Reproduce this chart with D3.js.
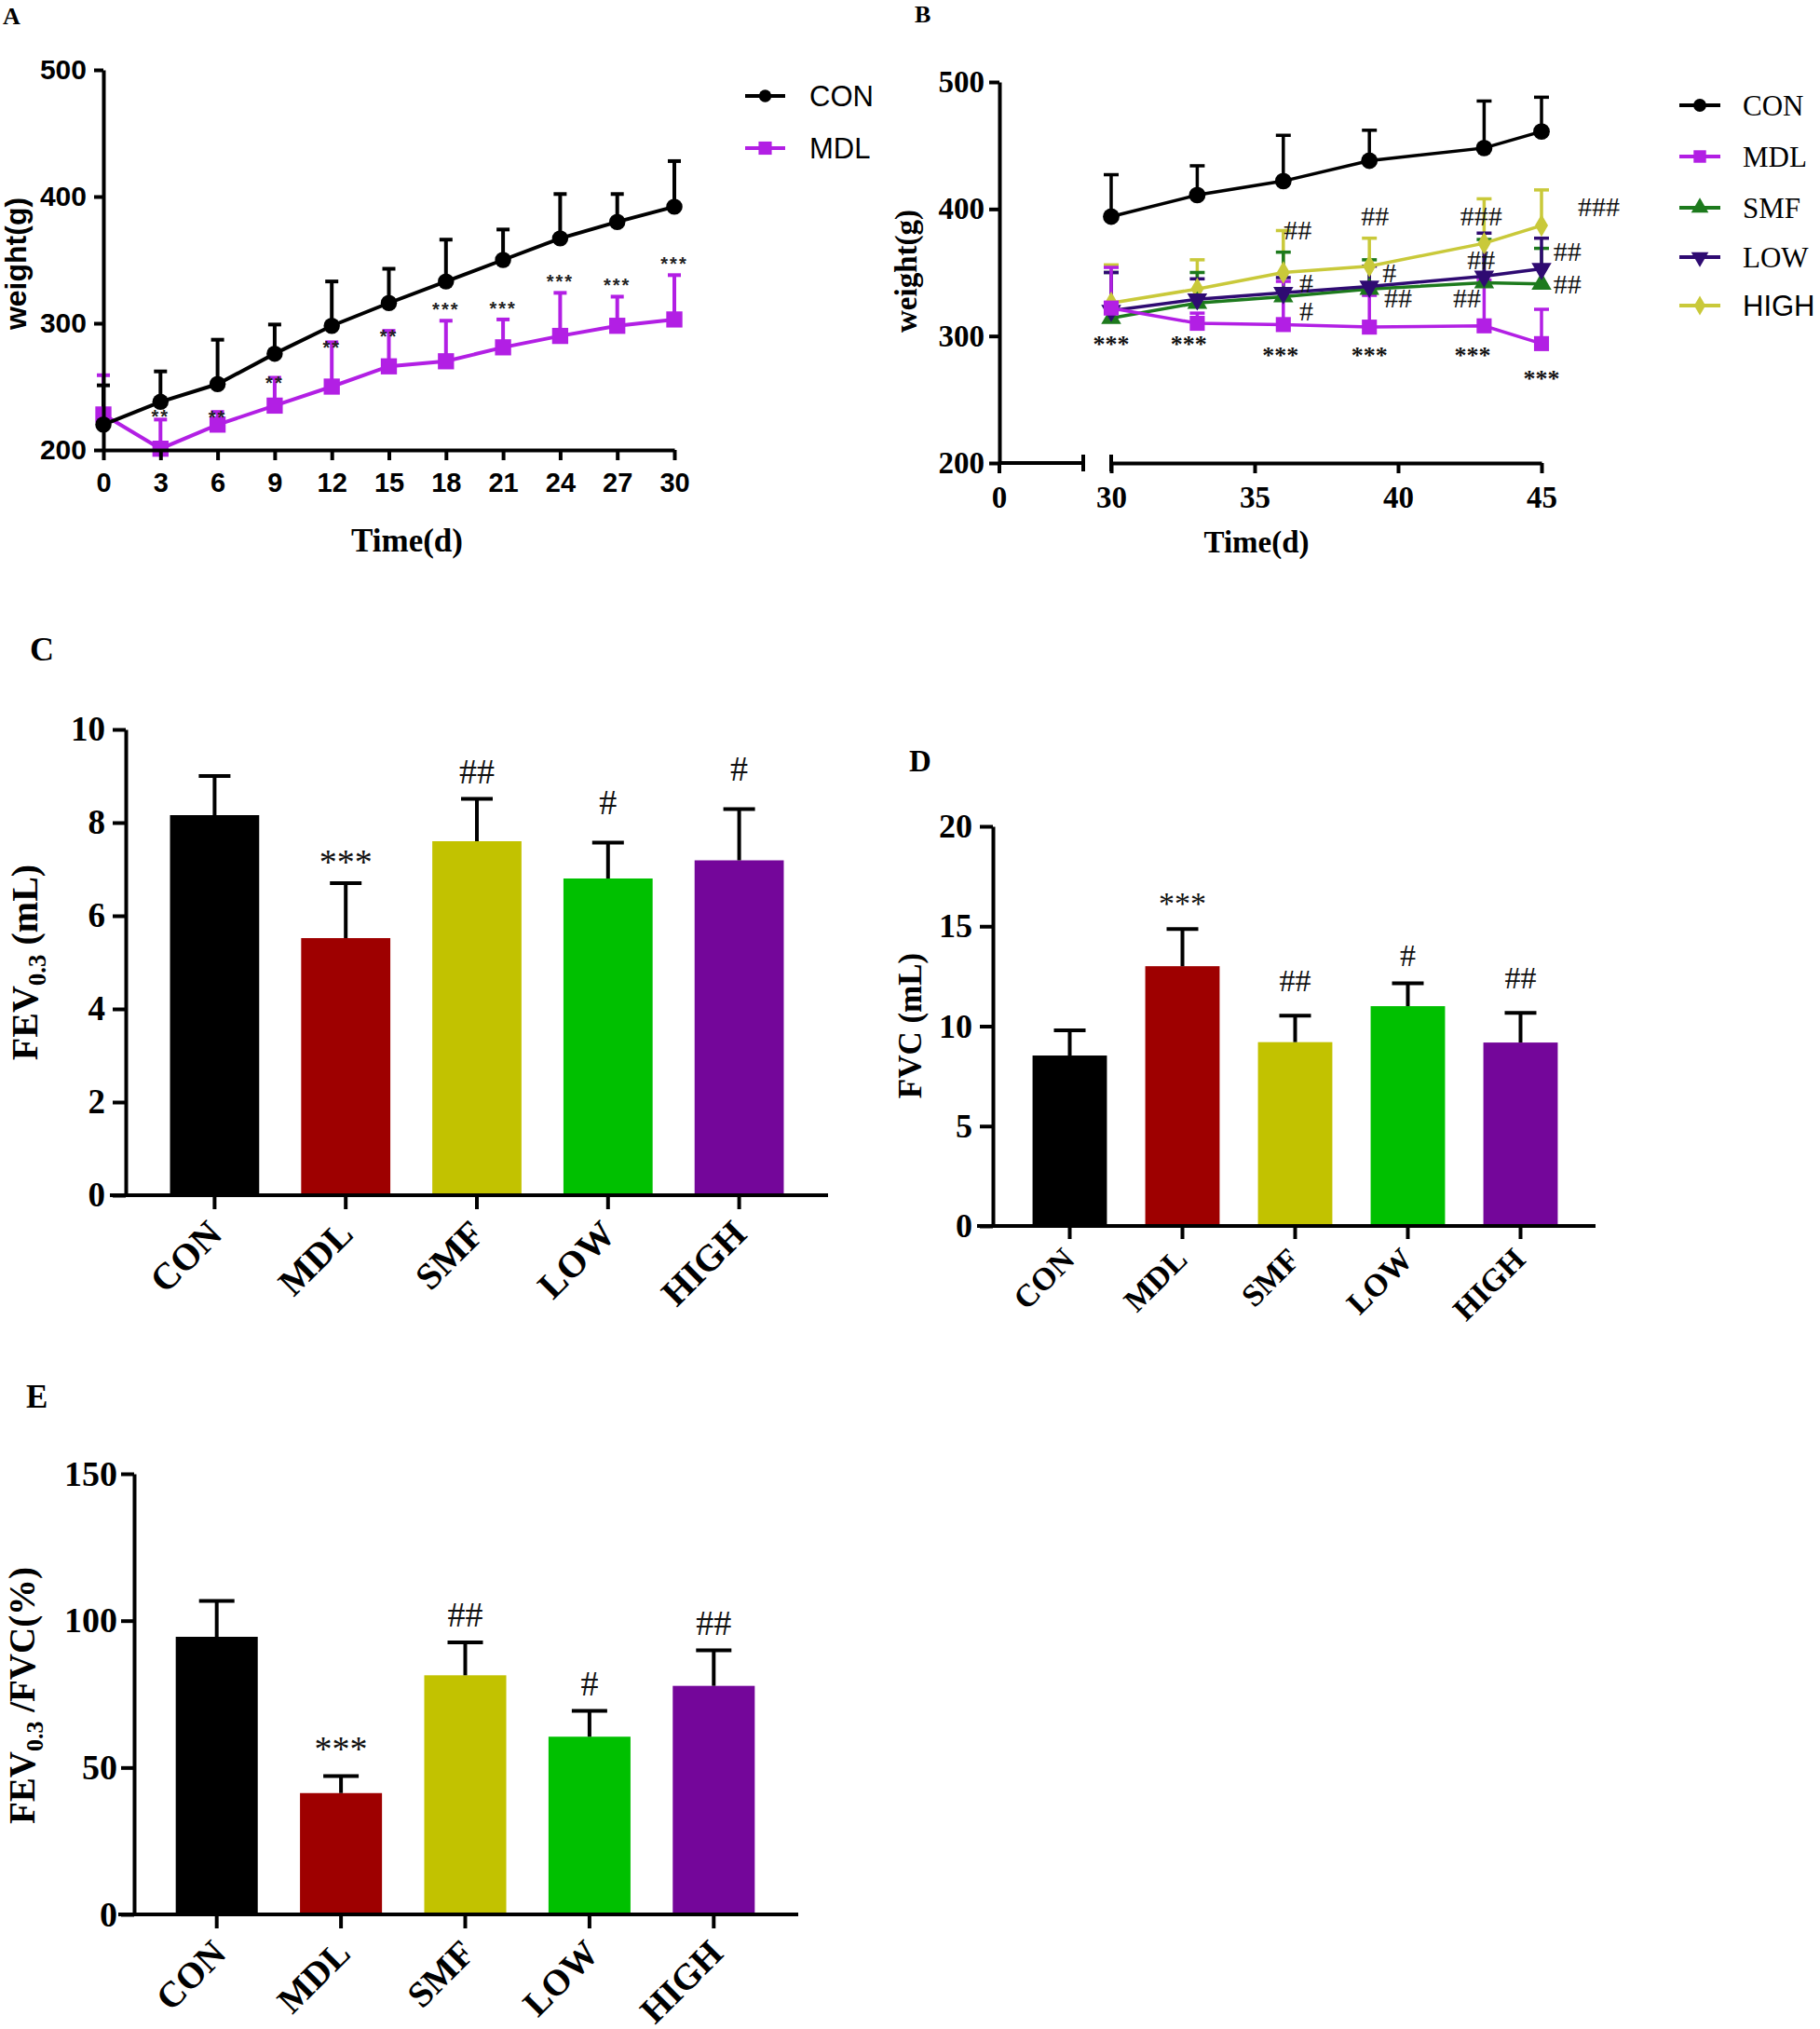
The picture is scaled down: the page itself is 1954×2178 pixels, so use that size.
<!DOCTYPE html>
<html><head><meta charset="utf-8">
<script src="https://cdn.jsdelivr.net/npm/d3@7"></script>
<style>
html,body{margin:0;padding:0;background:#fff;}
svg{display:block;}
</style></head>
<body>
<svg id="chart" width="1954" height="2178"></svg>
<script>
// ---------------- DATA ----------------
// Panel A: body weight, day 0-30
const daysA = [0, 3, 6, 9, 12, 15, 18, 21, 24, 27, 30];
const conA = [220, 238, 252, 276, 298, 316, 333, 350, 367, 380, 392];
const conASd = [31, 24, 35, 23, 35, 27, 33, 24, 35, 22, 36];
const mdlA = [228, 201, 220, 235, 250, 266, 270, 281, 290, 298, 303];
const mdlASd = [31, 23, 10, 22, 35, 28, 32, 22, 34, 23, 35];
const sigA = ["", "**", "**", "**", "**", "**", "***", "***", "***", "***", "***"];
const ticksAy = [200, 300, 400, 500];

// Panel B: body weight, day 30-45
const daysB = [30, 33, 36, 39, 43, 45];
const conB = [394, 411, 422, 438, 448, 461];
const conBSd = [33, 23, 36, 24, 37, 27];
const mdlB = [322, 310, 309, 307, 308, 294];
const mdlBSd = [32, 8, 34, 25, 36, 27];
const smfB = [314, 326, 331, 337, 342, 341];
const smfBSd = [36, 24, 35, 23, 34, 28];
const lowB = [320, 329, 334, 339, 347, 353];
const lowBSd = [30, 16, 12, 16, 34, 24];
const highB = [326, 337, 350, 355, 373, 387];
const highBSd = [30, 23, 33, 22, 35, 28];
const ticksBx = [30, 35, 40, 45];
const ticksBy = [200, 300, 400, 500];
// significance marks in panel B: [day, weight level, label]
const sigB = [
  [30, 298, "***"], [32.7, 298, "***"], [35.9, 289, "***"], [39, 289, "***"], [42.6, 289, "***"], [45, 271, "***"],
  [36.5, 384, "##"], [36.8, 342, "#"], [36.8, 320, "#"],
  [39.2, 395, "##"], [39.7, 350, "#"], [40.0, 330, "##"],
  [42.9, 395, "###"], [42.9, 360, "##"], [42.4, 330, "##"],
  [47.0, 402, "###"], [45.9, 367, "##"], [45.9, 341, "##"]
];

// Panels C-E: lung function
const groups = ["CON", "MDL", "SMF", "LOW", "HIGH"];
const fevMean = [8.16, 5.52, 7.60, 6.80, 7.19];
const fevSd = [0.84, 1.18, 0.91, 0.77, 1.10];
const fevSig = ["", "***", "##", "#", "#"];
const fevTicks = [0, 2, 4, 6, 8, 10];
const fvcMean = [8.53, 13.0, 9.2, 11.0, 9.18];
const fvcSd = [1.26, 1.86, 1.32, 1.14, 1.48];
const fvcSig = ["", "***", "##", "#", "##"];
const fvcTicks = [0, 5, 10, 15, 20];
const ratioMean = [94.5, 41.3, 81.4, 60.5, 77.8];
const ratioSd = [12.2, 5.8, 11.2, 8.8, 12.1];
const ratioSig = ["", "***", "##", "#", "##"];
const ratioTicks = [0, 50, 100, 150];

// ---------------- STYLE ----------------
const SERIF = "'Liberation Serif','Times New Roman',serif";
const SANS = "'Liberation Sans',Arial,sans-serif";
const C_MDL = "#b21fe4", C_SMF = "#1d7a1d", C_LOW = "#2f0b72", C_HIGH = "#c9c93a";
const barColors = ["#000000", "#9e0000", "#c2c200", "#00c000", "#74069a"];

const svg = d3.select("#chart");

function styleAxis(g, font, size, weight) {
  g.select(".domain").attr("stroke", "#000").attr("stroke-width", 4);
  g.selectAll(".tick line").attr("stroke", "#000").attr("stroke-width", 4);
  g.selectAll(".tick text").attr("font-family", font).attr("font-size", size)
    .attr("font-weight", weight).attr("fill", "#000");
}
function label(x, y, txt, font, size, weight, anchor) {
  return svg.append("text").attr("x", x).attr("y", y).text(txt)
    .attr("font-family", font).attr("font-size", size).attr("font-weight", weight || "normal")
    .attr("text-anchor", anchor || "start").attr("fill", "#000");
}

// ---------------- PANEL A ----------------
(function () {
  const x = d3.scaleLinear().domain([0, 30]).range([111, 724]);
  const y = d3.scaleLinear().domain([200, 500]).range([483, 75]);
  const g = svg.append("g");

  const series = [
    { m: mdlA, s: mdlASd, c: C_MDL, sym: d3.symbolSquare, size: 300 },
    { m: conA, s: conASd, c: "#000", sym: d3.symbolCircle, size: 240 }
  ];
  series.forEach(se => {
    const eg = g.append("g");
    daysA.forEach((d, i) => {
      const top = y(se.m[i] + se.s[i]);
      eg.append("line").attr("x1", x(d)).attr("x2", x(d)).attr("y1", y(se.m[i])).attr("y2", top)
        .attr("stroke", se.c).attr("stroke-width", 4);
      eg.append("line").attr("x1", x(d) - 7).attr("x2", x(d) + 7).attr("y1", top).attr("y2", top)
        .attr("stroke", se.c).attr("stroke-width", 4);
    });
  });
  const line = d3.line().x((d, i) => x(daysA[i])).y(d => y(d));
  series.forEach(se => {
    g.append("path").attr("d", line(se.m)).attr("fill", "none").attr("stroke", se.c).attr("stroke-width", 4);
    g.selectAll(null).data(se.m).enter().append("path")
      .attr("d", d3.symbol().type(se.sym).size(se.size))
      .attr("transform", (d, i) => `translate(${x(daysA[i])},${y(d)})`).attr("fill", se.c);
  });
  sigA.forEach((s, i) => {
    if (!s) return;
    const off = s === "***" ? -5 : (i === 1 ? 4 : 13);
    g.append("text").attr("x", x(daysA[i])).attr("y", y(mdlA[i] + mdlASd[i]) + off).text(s)
      .attr("font-family", SANS).attr("font-size", 20).attr("font-weight", "bold")
      .attr("letter-spacing", 2).attr("text-anchor", "middle").attr("fill", "#222");
  });
  const ax = g.append("g").attr("transform", `translate(0,${y(200)})`)
    .call(d3.axisBottom(x).tickValues(daysA).tickSize(11).tickSizeOuter(0).tickPadding(13));
  styleAxis(ax, SANS, 29, "bold");
  const ay = g.append("g").attr("transform", `translate(${x(0)},0)`)
    .call(d3.axisLeft(y).tickValues(ticksAy).tickSize(10).tickSizeOuter(0).tickPadding(8));
  styleAxis(ay, SANS, 30, "bold");

  label(437, 592, "Time(d)", SERIF, 35, "bold", "middle");
  svg.append("text").attr("transform", "translate(28,283) rotate(-90)").text("weight(g)")
    .attr("font-family", SANS).attr("font-size", 32).attr("font-weight", "bold")
    .attr("text-anchor", "middle");
  label(3, 26, "A", SERIF, 26, "bold");

  const leg = [["CON", "#000", d3.symbolCircle, 140], ["MDL", C_MDL, d3.symbolSquare, 200]];
  leg.forEach((l, i) => {
    const ly = 103 + i * 56;
    svg.append("line").attr("x1", 800).attr("x2", 843).attr("y1", ly).attr("y2", ly)
      .attr("stroke", l[1]).attr("stroke-width", 4);
    svg.append("path").attr("d", d3.symbol().type(l[2]).size(l[3])())
      .attr("transform", `translate(821.5,${ly})`).attr("fill", l[1]);
    label(869, ly + 11, l[0], SANS, 31);
  });
})();

// ---------------- PANEL B ----------------
(function () {
  const x = d3.scaleLinear().domain([30, 45]).range([1193, 1655]);
  const y = d3.scaleLinear().domain([200, 500]).range([497, 88]);
  const yAxisX = 1073;
  const g = svg.append("g");
  const series = [
    { m: highB, s: highBSd, c: C_HIGH, sym: d3.symbolDiamond, size: 170 },
    { m: smfB, s: smfBSd, c: C_SMF, sym: d3.symbolTriangle, size: 200 },
    { m: lowB, s: lowBSd, c: C_LOW, sym: d3.symbolTriangle, size: 200, flip: true },
    { m: mdlB, s: mdlBSd, c: C_MDL, sym: d3.symbolSquare, size: 260 },
    { m: conB, s: conBSd, c: "#000", sym: d3.symbolCircle, size: 250 }
  ];
  series.forEach(se => {
    daysB.forEach((d, i) => {
      const top = y(se.m[i] + se.s[i]);
      g.append("line").attr("x1", x(d)).attr("x2", x(d)).attr("y1", y(se.m[i])).attr("y2", top)
        .attr("stroke", se.c).attr("stroke-width", 3.5);
      g.append("line").attr("x1", x(d) - 8).attr("x2", x(d) + 8).attr("y1", top).attr("y2", top)
        .attr("stroke", se.c).attr("stroke-width", 3.5);
    });
  });
  const line = d3.line().x((d, i) => x(daysB[i])).y(d => y(d));
  series.forEach(se => {
    g.append("path").attr("d", line(se.m)).attr("fill", "none").attr("stroke", se.c).attr("stroke-width", 3.5);
    g.selectAll(null).data(se.m).enter().append("path")
      .attr("d", d3.symbol().type(se.sym).size(se.size))
      .attr("transform", (d, i) => `translate(${x(daysB[i])},${y(d)})${se.flip ? " rotate(180)" : ""}`)
      .attr("fill", se.c);
  });
  sigB.forEach(s => {
    const star = s[2].indexOf("*") >= 0;
    g.append("text").attr("x", x(s[0])).attr("y", y(s[1])).attr("dy", star ? "0.55em" : "0.35em").text(s[2])
      .attr("font-family", SERIF).attr("font-size", star ? 26 : 30).attr("font-weight", star ? "bold" : "normal")
      .attr("text-anchor", "middle").attr("fill", "#111");
  });
  const ax = g.append("g").attr("transform", `translate(0,${y(200)})`)
    .call(d3.axisBottom(x).tickValues(ticksBx).tickSize(11).tickSizeOuter(0).tickPadding(14));
  styleAxis(ax, SERIF, 33, "bold");
  const brk = x(30) - 30;
  g.append("line").attr("x1", yAxisX).attr("x2", brk).attr("y1", y(200)).attr("y2", y(200))
    .attr("stroke", "#000").attr("stroke-width", 4);
  [brk, x(30)].forEach(bx => g.append("line").attr("x1", bx).attr("x2", bx)
    .attr("y1", y(200) - 9).attr("y2", y(200) + 9).attr("stroke", "#000").attr("stroke-width", 4));
  g.append("line").attr("x1", yAxisX).attr("x2", yAxisX).attr("y1", y(200)).attr("y2", y(200) + 11)
    .attr("stroke", "#000").attr("stroke-width", 4);
  g.append("text").attr("x", yAxisX).attr("y", y(200) + 25).attr("dy", "0.71em").text("0")
    .attr("font-family", SERIF).attr("font-size", 33).attr("font-weight", "bold").attr("text-anchor", "middle");
  const ay = g.append("g").attr("transform", `translate(${yAxisX},0)`)
    .call(d3.axisLeft(y).tickValues(ticksBy).tickSize(11).tickSizeOuter(0).tickPadding(5));
  styleAxis(ay, SERIF, 33, "bold");

  label(1349, 593, "Time(d)", SERIF, 33, "bold", "middle");
  svg.append("text").attr("transform", "translate(984,291) rotate(-90)").text("weight(g)")
    .attr("font-family", SERIF).attr("font-size", 33).attr("font-weight", "bold").attr("text-anchor", "middle");
  label(982, 24, "B", SERIF, 26, "bold");

  const leg = [["CON", "#000", d3.symbolCircle, 150, false, SERIF],
    ["MDL", C_MDL, d3.symbolSquare, 180, false, SERIF],
    ["SMF", C_SMF, d3.symbolTriangle, 150, false, SERIF],
    ["LOW", C_LOW, d3.symbolTriangle, 150, true, SERIF],
    ["HIGH", C_HIGH, d3.symbolDiamond, 130, false, SANS]];
  const legY = [113, 168, 223, 276, 328];
  leg.forEach((l, i) => {
    const ly = legY[i];
    svg.append("line").attr("x1", 1803).attr("x2", 1847).attr("y1", ly).attr("y2", ly)
      .attr("stroke", l[1]).attr("stroke-width", 4);
    svg.append("path").attr("d", d3.symbol().type(l[2]).size(l[3])())
      .attr("transform", `translate(1825,${ly})${l[4] ? " rotate(180)" : ""}`).attr("fill", l[1]);
    label(1871, ly + 11, l[0], l[5], 31);
  });
})();

// ---------------- BAR PANELS ----------------
function barPanel(o) {
  const y = d3.scaleLinear().domain(o.domain).range([o.y0, o.y1]);
  const xb = d3.scaleBand().domain(groups).range(o.xr).paddingInner(o.pad).paddingOuter(o.pad / 2);
  const g = svg.append("g");
  g.selectAll(null).data(o.mean).enter().append("rect")
    .attr("x", (d, i) => xb(groups[i])).attr("width", xb.bandwidth())
    .attr("y", d => y(d)).attr("height", d => y(0) - y(d))
    .attr("fill", (d, i) => barColors[i]);
  o.mean.forEach((m, i) => {
    const cx = xb(groups[i]) + xb.bandwidth() / 2;
    const top = y(m + o.sd[i]);
    g.append("line").attr("x1", cx).attr("x2", cx).attr("y1", y(m)).attr("y2", top)
      .attr("stroke", "#000").attr("stroke-width", 4);
    g.append("line").attr("x1", cx - o.cap / 2).attr("x2", cx + o.cap / 2).attr("y1", top).attr("y2", top)
      .attr("stroke", "#000").attr("stroke-width", 4);
    if (o.sig[i]) {
      const s = o.sig[i];
      const off = s === "#" ? o.sigOff1 : (s === "***" ? o.sigOff3 : o.sigOff);
      g.append("text").attr("x", cx).attr("y", top - off).attr("dy", "0.35em").text(s)
        .attr("font-family", SERIF).attr("font-size", o.sigSize).attr("text-anchor", "middle").attr("fill", "#111");
    }
    g.append("line").attr("x1", cx).attr("x2", cx).attr("y1", y(0)).attr("y2", y(0) + o.tick)
      .attr("stroke", "#000").attr("stroke-width", 4);
    g.append("text").attr("transform", `translate(${cx + o.lab[0]},${y(0) + o.lab[1]}) rotate(-45)`)
      .text(groups[i]).attr("font-family", SERIF).attr("font-size", o.catSize)
      .attr("font-weight", "bold").attr("text-anchor", "end");
  });
  g.append("line").attr("x1", o.ax - 17).attr("x2", o.xEnd).attr("y1", y(0)).attr("y2", y(0))
    .attr("stroke", "#000").attr("stroke-width", 4);
  const ay = g.append("g").attr("transform", `translate(${o.ax},0)`)
    .call(d3.axisLeft(y).tickValues(o.ticks).tickSize(14).tickSizeOuter(0).tickPadding(o.tickPad));
  styleAxis(ay, SERIF, o.tickSize, "bold");
  return y;
}

// C
barPanel({ domain: [0, 10], y0: 1283, y1: 783, xr: [160, 864], pad: 0.32, ax: 135, xEnd: 889,
  mean: fevMean, sd: fevSd, sig: fevSig, ticks: fevTicks, cap: 34, sigOff: 30, sigOff1: 44, sigOff3: 23, sigSize: 38,
  tick: 15, lab: [10, 44], catSize: 40, tickSize: 37, tickPad: 8 });
svg.append("text").attr("transform", "translate(40,1033) rotate(-90)")
  .attr("font-family", SERIF).attr("font-size", 40).attr("font-weight", "bold").attr("text-anchor", "middle")
  .call(t => {
    t.append("tspan").text("FEV");
    t.append("tspan").attr("font-size", 27).attr("dy", 9).text("0.3");
    t.append("tspan").attr("dy", -9).text(" (mL)");
  });
label(32, 709, "C", SERIF, 36, "bold");

// D
barPanel({ domain: [0, 20], y0: 1316, y1: 887, xr: [1088, 1693], pad: 0.34, ax: 1066, xEnd: 1713,
  mean: fvcMean, sd: fvcSd, sig: fvcSig, ticks: fvcTicks, cap: 34, sigOff: 38, sigOff1: 30, sigOff3: 28, sigSize: 34,
  tick: 14, lab: [7, 38], catSize: 34, tickSize: 36, tickPad: 8 });
svg.append("text").attr("transform", "translate(989,1101) rotate(-90)").text("FVC (mL)")
  .attr("font-family", SERIF).attr("font-size", 35).attr("font-weight", "bold").attr("text-anchor", "middle");
label(976, 828, "D", SERIF, 33, "bold");

// E
barPanel({ domain: [0, 150], y0: 2055, y1: 1582, xr: [166, 833], pad: 0.34, ax: 144, xEnd: 857,
  mean: ratioMean, sd: ratioSd, sig: ratioSig, ticks: ratioTicks, cap: 38, sigOff: 30, sigOff1: 30, sigOff3: 30, sigSize: 38,
  tick: 15, lab: [12, 44], catSize: 39, tickSize: 38, tickPad: 4 });
svg.append("text").attr("transform", "translate(37,1820) rotate(-90)")
  .attr("font-family", SERIF).attr("font-size", 39).attr("font-weight", "bold").attr("text-anchor", "middle")
  .call(t => {
    t.append("tspan").text("FEV");
    t.append("tspan").attr("font-size", 26).attr("dy", 9).text("0.3");
    t.append("tspan").attr("dy", -9).text(" /FVC(%)");
  });
label(28, 1511, "E", SERIF, 35, "bold");
</script>
</body></html>
